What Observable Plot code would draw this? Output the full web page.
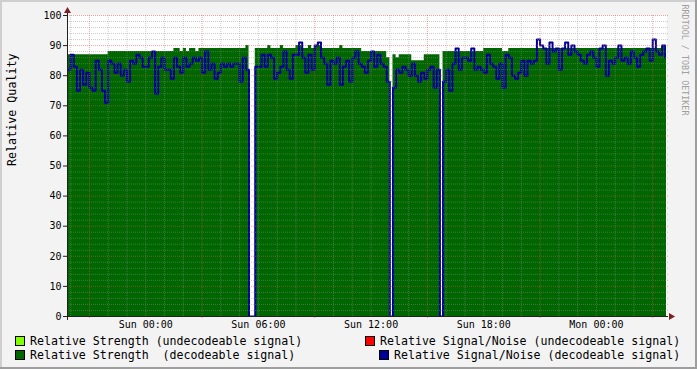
<!DOCTYPE html>
<html><head><meta charset="utf-8">
<script src="https://cdn.jsdelivr.net/npm/d3@7"></script>
<script src="https://cdn.jsdelivr.net/npm/@observablehq/plot@0.6"></script>
<style>
html,body{margin:0;padding:0;background:#f3f3f3;}
#wrap{position:relative;width:697px;height:369px;background:#f3f3f3;overflow:hidden;}
#wrap svg{position:absolute;left:0;top:0;}
.b{position:absolute;}
.leg{position:absolute;font-family:"DejaVu Sans Mono",monospace;font-size:11.6px;white-space:pre;color:#000;line-height:14px;}
.sw{position:absolute;width:8px;height:8px;border:1px solid #000;}
</style>
</head><body>
<div id="wrap"></div>
<script>
// Relative strength (decodeable signal), one value per 10 minutes
const strength = [
87,87,87,87,87,87,87,87,87,87,87,87,87,88,88,88,88,88,88,88,
88,88,88,88,88,88,88,88,88,88,88,88,88,88,89,89,88,89,88,89,
89,88,89,89,89,89,89,89,89,89,89,89,89,89,89,89,89,90,0,0,
89,89,89,89,90,89,89,89,90,89,89,89,89,90,90,89,89,90,89,90,
90,89,89,89,89,89,89,90,89,89,89,89,89,89,88,88,88,88,88,88,
88,88,86,0,87,86,87,87,87,87,85,85,85,85,87,87,87,87,87,0,
88,88,88,88,88,88,88,88,88,88,88,88,88,89,89,89,89,89,89,88,
88,89,89,89,89,89,89,89,89,89,89,89,89,89,89,89,89,89,89,89,
89,89,89,89,89,89,89,89,89,89,89,89,89,89,89,89,89,89,89,89,
89,89,89,89,89,89,89,89,89,89,90,89,89,89,89,89,89,89,89,90,
90,89,89];
// Relative signal/noise (decodeable signal)
const snr = [
82,87,83,75,82,77,81,76,75,85,82,75,71,85,84,81,84,80,82,78,
85,84,87,86,83,83,86,88,74,83,86,82,82,79,86,83,81,86,83,84,
86,85,86,81,88,82,84,79,81,84,83,84,83,84,84,78,86,82,0,0,
83,83,87,83,87,86,79,81,83,88,82,79,87,87,91,86,81,87,82,90,
91,86,84,77,85,84,86,77,83,85,78,86,88,84,83,81,85,88,83,87,
84,83,78,0,76,82,81,83,82,80,84,80,78,81,79,82,83,76,82,0,
78,82,75,84,89,82,86,86,85,89,82,83,82,81,87,84,83,79,84,76,
87,86,80,79,81,85,80,85,84,85,92,90,89,84,91,88,89,82,89,91,
87,90,88,87,85,84,87,88,86,83,89,90,80,85,84,86,90,85,86,84,
88,86,83,87,88,89,85,92,88,87,90,86,86];
const yTicks = [0,10,20,30,40,50,60,70,80,90,100];
const xLabels = ["Sun 00:00","Sun 06:00","Sun 12:00","Sun 18:00","Mon 00:00"];
const legendItems = [
  {label:"Relative Strength (undecodeable signal)", color:"#80ff00"},
  {label:"Relative Strength  (decodeable signal)", color:"#006600"},
  {label:"Relative Signal/Noise (undecodeable signal)", color:"#ff0000"},
  {label:"Relative Signal/Noise (decodeable signal)", color:"#000099"}
];

const start = new Date(Date.UTC(2010,0,9,19,50));
const stepMs = 10*60*1000;
const end = new Date(+start + 191.4*stepMs);
const data = strength.map((s,i)=>({t:new Date(+start+i*stepMs), s, n:snr[i]}));
const hours = d3.utcHour.range(start, end);
const majorX = hours.filter(d=>d.getUTCHours()%6===3);
const minorX = hours.filter(d=>d.getUTCHours()%6!==3);
const labelX = hours.filter(d=>d.getUTCHours()%6===0);
const minorY = d3.range(2,100,2).filter(d=>d%10!==0);
const mono = "DejaVu Sans Mono";

const chart = Plot.plot({
  width: 697, height: 333,
  marginLeft: 67, marginRight: 31, marginTop: 15, marginBottom: 17,
  style: {background:"transparent", fontFamily: mono},
  x: {type:"utc", domain:[start,end], axis:null},
  y: {domain:[0,100], axis:null},
  marks: [
    Plot.frame({fill:"#ffffff", stroke:null}),
    Plot.areaY(data, {x:"t", y:"s", fill:"#006600", curve:"step-after", clip:true}),
    Plot.lineY(data, {x:"t", y:"n", stroke:"#000099", strokeWidth:2, curve:"step-after", clip:true}),
    Plot.ruleX(minorX, {x:d=>d, stroke:"#8f8f8f", strokeOpacity:0.45, strokeDasharray:"1,1"}),
    Plot.ruleY(minorY, {y:d=>d, stroke:"#8f8f8f", strokeOpacity:0.45, strokeDasharray:"1,1", insetRight:-3}),
    Plot.ruleX(majorX, {x:d=>d, stroke:"#de5050", strokeOpacity:0.5, strokeDasharray:"1,1", insetBottom:-3}),
    Plot.ruleY(yTicks.slice(1), {y:d=>d, stroke:"#de5050", strokeOpacity:0.5, strokeDasharray:"1,1", insetRight:-3}),
    Plot.ruleY(yTicks, {y:d=>d, x1:()=>start, x2:()=>start, insetLeft:-4, stroke:"#202020"}),
    Plot.ruleX([start], {x:d=>d, insetTop:-3, insetBottom:-4, stroke:"#202020"}),
    Plot.ruleY([0], {y:d=>d, insetLeft:-4, insetRight:-2, stroke:"#202020"}),
    Plot.dot([start], {x:d=>d, y:()=>100, dy:-4.5, symbol:"triangle", r:2.6, fill:"#7f1f1f", stroke:null}),
    Plot.dot([end], {x:d=>d, y:()=>0, dx:4.5, rotate:90, symbol:"triangle", r:2.6, fill:"#7f1f1f", stroke:null}),
    Plot.text(yTicks, {y:d=>d, text:d=>String(d), frameAnchor:"left", textAnchor:"end", dx:-6, fontSize:10, fill:"#000", fontFamily:mono}),
    Plot.text(labelX, {x:d=>d, text:(d,i)=>xLabels[i], frameAnchor:"bottom", dy:8, lineAnchor:"middle", fontSize:10, fill:"#000", fontFamily:mono}),
    Plot.text(["Relative Quality"], {text:d=>d, frameAnchor:"left", rotate:-90, dx:-55, fontSize:11.7, fill:"#000", fontFamily:mono}),
    Plot.text(["RRDTOOL / TOBI OETIKER"], {text:d=>d, frameAnchor:"top-right", rotate:90, textAnchor:"start", dx:21, dy:-11, fontSize:8.4, fill:"#a0a0a0", fontFamily:mono})
  ]
});
const wrap = document.getElementById("wrap");
wrap.appendChild(chart);

// legend
const pos = [
  {sx:15, sy:336, tx:30, ty:334},
  {sx:15, sy:350, tx:30, ty:348},
  {sx:365, sy:336, tx:380, ty:334},
  {sx:379, sy:350, tx:394, ty:348}
];
legendItems.forEach((it,i)=>{
  const p = pos[i];
  const sw = document.createElement("div");
  sw.className="sw"; sw.style.left=p.sx+"px"; sw.style.top=p.sy+"px"; sw.style.background=it.color;
  wrap.appendChild(sw);
  const t = document.createElement("div");
  t.className="leg"; t.style.left=p.tx+"px"; t.style.top=p.ty+"px"; t.textContent=it.label;
  wrap.appendChild(t);
});
// 3D frame
[["0px","0px","697px","2px","#cfcfcf"],["0px","0px","2px","369px","#cfcfcf"],
 ["0px","367px","697px","2px","#9e9e9e"],["695px","0px","2px","369px","#9e9e9e"]].forEach(b=>{
  const d=document.createElement("div"); d.className="b";
  d.style.left=b[0]; d.style.top=b[1]; d.style.width=b[2]; d.style.height=b[3]; d.style.background=b[4];
  wrap.appendChild(d);
});
</script>
</body></html>
